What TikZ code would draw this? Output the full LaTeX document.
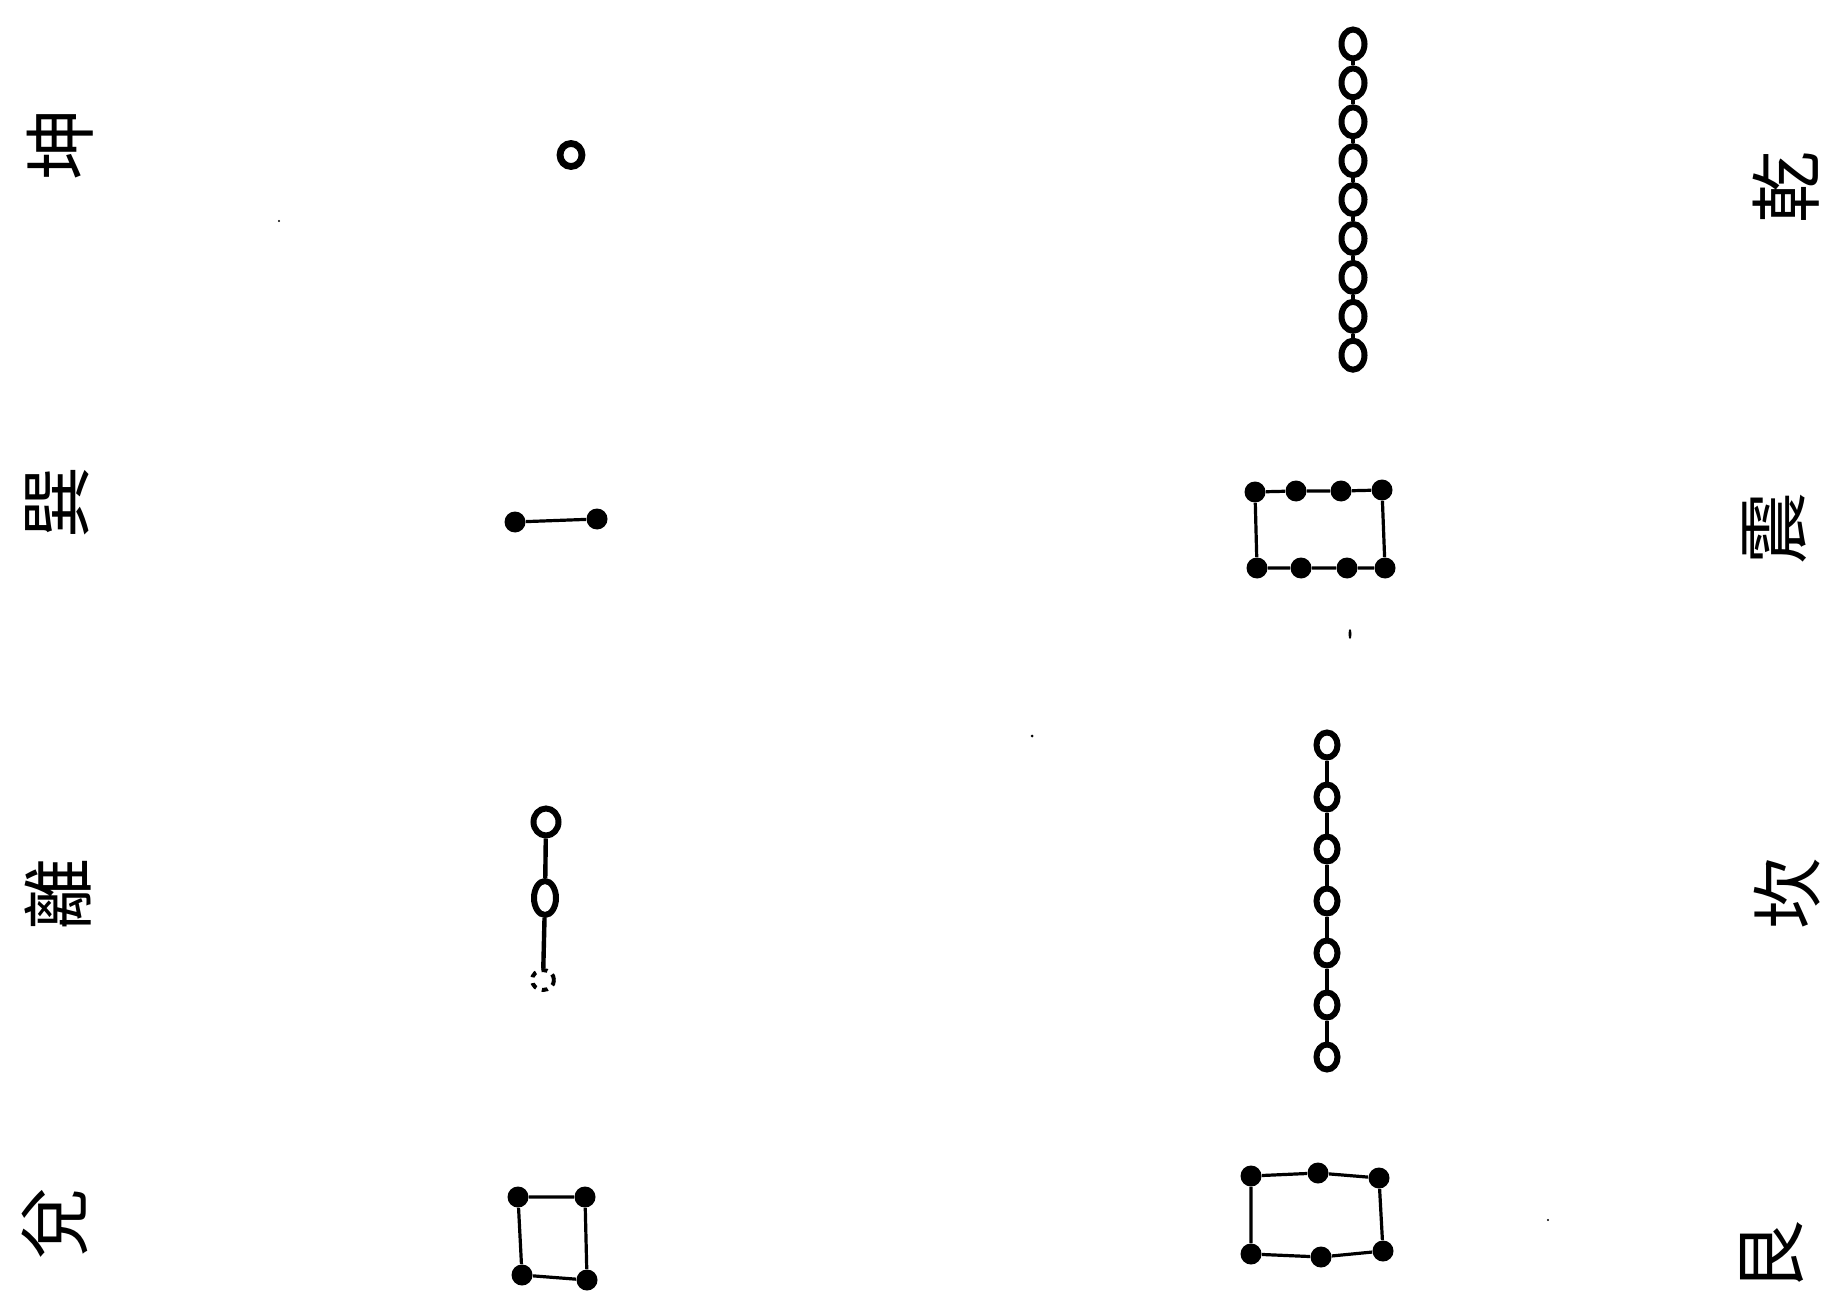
\documentclass[tikz,border=0pt]{standalone}
\usepackage{fontspec}
\newfontfamily\cjk{Noto Sans CJK TC}
\usetikzlibrary{shapes.geometric}
\begin{document}
\begin{tikzpicture}[x=0.5pt,y=-0.5pt,
  lbl/.style={font=\cjk\fontsize{36}{36}\selectfont, rotate=90, inner sep=0pt},
  bdot/.style={circle, fill=black, minimum size=10.5pt, inner sep=0pt},
  wring/.style={ellipse, draw=black, line width=2.8pt, inner sep=0pt, minimum width=10pt, minimum height=12pt},
  link/.style={line width=2.2pt},
  rectline/.style={line width=1.6pt}]
\path[use as bounding box, fill=white] (0,0) rectangle (1825,1299);
\clip (0,0) rectangle (1825,1299);

% labels left
\node[lbl] (kun) at (60,145) {坤};
\node[lbl] (xun) at (57,502) {巽};
\node[lbl] (li) at (58,894) {離};
\node[lbl] (dui) at (55,1223) {兌};
% labels right
\node[lbl] (qian) at (1786,188) {乾};
\node[lbl] (zhen) at (1775,528) {震};
\node[lbl] (kan) at (1787,893) {坎};
\node[lbl] (gen) at (1772,1256) {艮};

% Kun: one white circle
\node[wring, line width=3.4pt, minimum width=11pt, minimum height=11.5pt] (k1) at (571,155) {};

% Xun: two black dots
\node[bdot] (x1) at (515,522) {};
\node[bdot] (x2) at (597,519) {};
\draw[rectline] (x1) -- (x2);

% Li: three white circles
\node[wring, line width=3pt, minimum width=12.5pt, minimum height=13.5pt] (l1) at (546,822) {};
\node[wring, line width=3pt, minimum width=11pt, minimum height=17pt] (l2) at (545,898) {};
\node[wring, dashed, line width=2pt, minimum width=11pt, minimum height=10pt] (l3) at (543,980) {};
\draw[link] (l1) -- (l2);
\draw[link] (l2) -- (l3);

% Dui: four black dots in a rectangle
\node[bdot] (d1) at (518,1197) {};
\node[bdot] (d2) at (585,1197) {};
\node[bdot] (d3) at (587,1280) {};
\node[bdot] (d4) at (522,1275) {};
\draw[rectline] (d1) -- (d2) -- (d3) -- (d4) -- (d1);

% Qian: nine white circles in a chain
\foreach \i in {1,...,9} {
  \node[wring, line width=3pt, minimum width=11.5pt, minimum height=14.5pt] (q\i) at (1353,{44+38.9*(\i-1)}) {};
}
\foreach \i [evaluate=\i as \j using int(\i+1)] in {1,...,8} {
  \draw[link] (q\i) -- (q\j);
}

% Zhen: eight black dots in a rectangle
\node[bdot] (z1) at (1255,492) {};
\node[bdot] (z2) at (1296,491) {};
\node[bdot] (z3) at (1341,491) {};
\node[bdot] (z4) at (1382,490) {};
\node[bdot] (z5) at (1385,568) {};
\node[bdot] (z6) at (1347,568) {};
\node[bdot] (z7) at (1301,568) {};
\node[bdot] (z8) at (1257,568) {};
\draw[rectline] (z1) -- (z2) -- (z3) -- (z4) -- (z5) -- (z6) -- (z7) -- (z8) -- (z1);

% Kan: seven white circles in a chain
\foreach \i in {1,...,7} {
  \node[wring, line width=3pt, minimum width=10.5pt, minimum height=12.5pt] (c\i) at (1327,{745+52*(\i-1)}) {};
}
\foreach \i [evaluate=\i as \j using int(\i+1)] in {1,...,6} {
  \draw[link] (c\i) -- (c\j);
}

% Gen: six black dots in a rectangle
\node[bdot] (g1) at (1251,1176) {};
\node[bdot] (g2) at (1318,1173) {};
\node[bdot] (g3) at (1379,1178) {};
\node[bdot] (g4) at (1383,1251) {};
\node[bdot] (g5) at (1321,1257) {};
\node[bdot] (g6) at (1251,1254) {};
\draw[rectline] (g1) -- (g2) -- (g3) -- (g4) -- (g5) -- (g6) -- (g1);

% small specks
\fill (1350,634) ellipse (1.5 and 5);
\fill (1032,736) circle (1.5);
\fill (279,221) circle (1.2);
\fill (1548,1220) circle (1.2);
\end{tikzpicture}
\end{document}
